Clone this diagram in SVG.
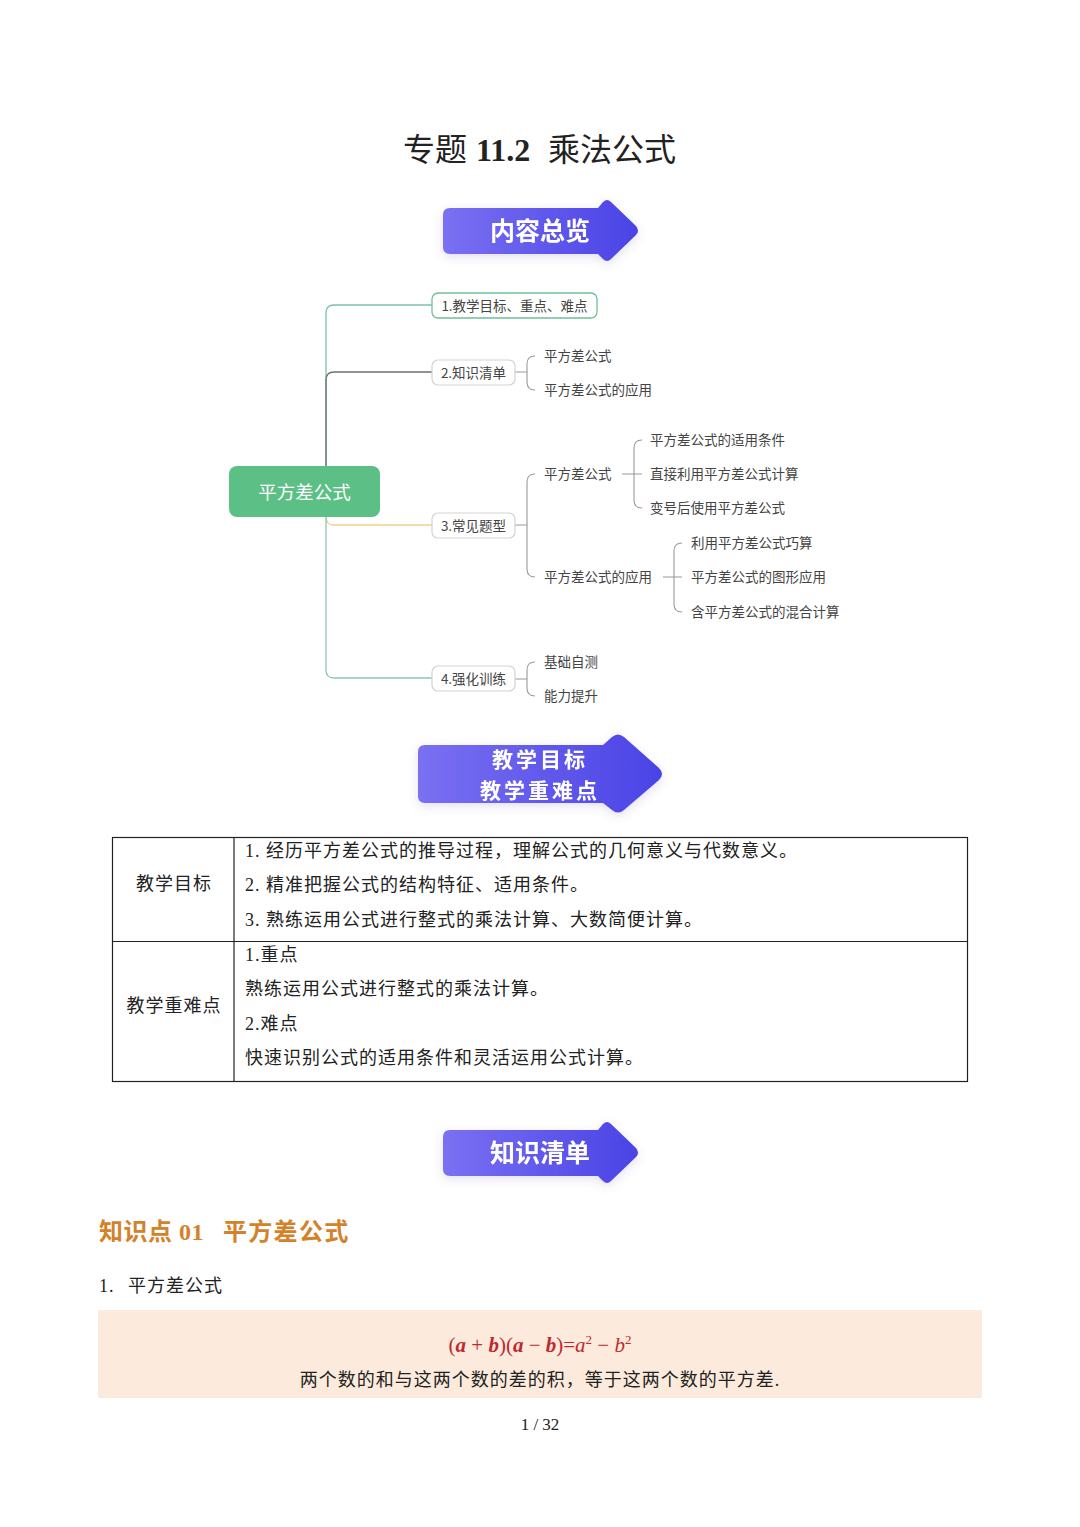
<svg xmlns="http://www.w3.org/2000/svg" width="1080" height="1527" viewBox="0 0 1080 1527">
<defs>
<linearGradient id="bg" x1="0" y1="0" x2="1" y2="0">
<stop offset="0" stop-color="#7a70f2"/>
<stop offset="1" stop-color="#4a43e6"/>
</linearGradient>
<filter id="sh" x="-20%" y="-40%" width="140%" height="180%">
<feDropShadow dx="0" dy="3" stdDeviation="5" flood-color="#5a55a0" flood-opacity="0.18"/>
</filter>
<style>
.serif{font-family:"Liberation Serif","Noto Sans CJK SC",serif;fill:#222}
.sans{font-family:"Noto Sans CJK SC","Noto Sans",sans-serif}
.ban{font-family:"Noto Sans CJK SC","Noto Sans",sans-serif;font-weight:700;fill:#fff;text-anchor:middle}
.mm{font-family:"Noto Sans CJK SC","Noto Sans",sans-serif;font-size:13.5px;fill:#444}
.box{fill:#fff;stroke:#d3d3d3;stroke-width:1.2}
.ln{fill:none;stroke-width:1.3}
.br{fill:none;stroke:#9a9a9a;stroke-width:1.1}
.tb{fill:none;stroke:#222;stroke-width:1.2}
.td{font-family:"Liberation Serif","Noto Sans CJK SC",serif;font-size:18px;fill:#222;letter-spacing:1px}
</style>
</defs>
<rect width="1080" height="1527" fill="#fff"/>

<g id="title">
<text x="403" y="161" class="serif" font-size="32">专题</text>
<text x="476" y="161" class="serif" font-size="32" font-weight="700">11.2</text>
<text x="548" y="161" class="serif" font-size="32">乘法公式</text>
</g>

<g id="banner1" filter="url(#sh)">
<path d="M450,208 H598 L603,202 Q607,198 611,202 L636,226 Q640,231 636,235 L611,259 Q607,263 603,259 L598,254 H450 Q443,254 443,247 V215 Q443,208 450,208 Z" fill="url(#bg)"/>
<text x="540" y="240" class="ban" font-size="25">内容总览</text>
</g>

<g id="connectors">
<path class="ln" stroke="#7cc4a5" d="M326,466 V313 Q326,305 334,305 H432"/>
<path class="ln" stroke="#6e6e78" d="M326,466 V380 Q326,372 334,372 H432"/>
<path class="ln" stroke="#f2cf8a" d="M326,517 Q326,525 334,525 H432"/>
<path class="ln" stroke="#8ac8b5" d="M326,517 V670 Q326,678 334,678 H432"/>
<path class="br" d="M515,372 H527 M535,356 Q527,356 527,364 V382 Q527,390 535,390"/>
<path class="br" d="M515,525 H527 M535,474 Q527,474 527,482 V569 Q527,577 535,577"/>
<path class="br" d="M622,474 H642 M642,440 Q634,440 634,448 V500 Q634,508 642,508"/>
<path class="br" d="M663,577 H682 M682,543 Q674,543 674,551 V604 Q674,612 682,612"/>
<path class="br" d="M515,679 H527 M535,662 Q527,662 527,670 V688 Q527,696 535,696"/>
</g>

<g id="center">
<rect x="229" y="466" width="151" height="51" rx="8" fill="#5cbf85"/>
<text x="304.5" y="499" text-anchor="middle" class="sans" font-size="18.5" fill="#fff">平方差公式</text>
</g>

<g id="n1">
<rect x="432" y="293" width="165" height="25" rx="6" fill="#fff" stroke="#6fbf98" stroke-width="1.3"/>
<text x="514.5" y="310.5" text-anchor="middle" class="mm">1.教学目标、重点、难点</text>
</g>
<g id="n2">
<rect x="432" y="360" width="83" height="25" rx="6" class="box"/>
<text x="473.5" y="377.5" text-anchor="middle" class="mm">2.知识清单</text>
</g>
<g id="n3">
<rect x="432" y="513" width="83" height="25" rx="6" class="box"/>
<text x="473.5" y="530.5" text-anchor="middle" class="mm">3.常见题型</text>
</g>
<g id="n4">
<rect x="432" y="666" width="83" height="25" rx="6" class="box"/>
<text x="473.5" y="683.5" text-anchor="middle" class="mm">4.强化训练</text>
</g>

<g id="n2a"><text x="544" y="361" class="mm">平方差公式</text></g>
<g id="n2b"><text x="544" y="395" class="mm">平方差公式的应用</text></g>
<g id="n3a"><text x="544" y="479" class="mm">平方差公式</text></g>
<g id="n3b"><text x="544" y="582" class="mm">平方差公式的应用</text></g>
<g id="n3a1"><text x="650" y="445" class="mm">平方差公式的适用条件</text></g>
<g id="n3a2"><text x="650" y="479" class="mm">直接利用平方差公式计算</text></g>
<g id="n3a3"><text x="650" y="513" class="mm">变号后使用平方差公式</text></g>
<g id="n3b1"><text x="691" y="548" class="mm">利用平方差公式巧算</text></g>
<g id="n3b2"><text x="691" y="582" class="mm">平方差公式的图形应用</text></g>
<g id="n3b3"><text x="691" y="617" class="mm">含平方差公式的混合计算</text></g>
<g id="n4a"><text x="544" y="667" class="mm">基础自测</text></g>
<g id="n4b"><text x="544" y="701" class="mm">能力提升</text></g>

<g id="banner2" filter="url(#sh)">
<path d="M425,745 H603 L612,737 Q618,732 624,737 L659,768 Q665,774 659,780 L624,810 Q618,815 612,810 L603,803 H425 Q418,803 418,796 V752 Q418,745 425,745 Z" fill="url(#bg)"/>
<text x="540" y="767" class="ban" font-size="21" letter-spacing="3">教学目标</text>
<text x="540" y="798" class="ban" font-size="21" letter-spacing="3">教学重难点</text>
</g>

<g id="table">
<rect x="112.5" y="837.5" width="855" height="244" class="tb"/>
<line x1="234" y1="837.5" x2="234" y2="1081.5" class="tb"/>
<line x1="112.5" y1="941.5" x2="967.5" y2="941.5" class="tb"/>
<text x="174" y="890" text-anchor="middle" class="td">教学目标</text>
<text x="245" y="857" class="td">1. 经历平方差公式的推导过程，理解公式的几何意义与代数意义。</text>
<text x="245" y="891" class="td">2. 精准把握公式的结构特征、适用条件。</text>
<text x="245" y="926" class="td">3. 熟练运用公式进行整式的乘法计算、大数简便计算。</text>
<text x="174" y="1012" text-anchor="middle" class="td">教学重难点</text>
<text x="245" y="961" class="td">1.重点</text>
<text x="245" y="995" class="td">熟练运用公式进行整式的乘法计算。</text>
<text x="245" y="1030" class="td">2.难点</text>
<text x="245" y="1064" class="td">快速识别公式的适用条件和灵活运用公式计算。</text>
</g>

<g id="banner3" filter="url(#sh)">
<path d="M450,1130 H598 L603,1124 Q607,1120 611,1124 L636,1148 Q640,1153 636,1157 L611,1181 Q607,1185 603,1181 L598,1176 H450 Q443,1176 443,1169 V1137 Q443,1130 450,1130 Z" fill="url(#bg)"/>
<text x="540" y="1162" class="ban" font-size="25">知识清单</text>
</g>

<g id="section">
<text x="99" y="1240" font-family="Liberation Serif,Noto Sans CJK SC,serif" font-size="24" font-weight="700" fill="#d4822a" letter-spacing="0.5">知识点 01</text>
<text x="223" y="1240" font-family="Liberation Serif,Noto Sans CJK SC,serif" font-size="24" font-weight="700" fill="#d4822a" letter-spacing="1.3">平方差公式</text>
<text x="99" y="1292" class="td">1.</text>
<text x="128" y="1292" class="td">平方差公式</text>
<rect x="98" y="1310" width="884" height="88" fill="#fcebdc"/>
<text x="540" y="1352" text-anchor="middle" font-family="Liberation Serif,serif" font-size="21" fill="#c0282d">(<tspan font-weight="700" font-style="italic">a</tspan> + <tspan font-weight="700" font-style="italic">b</tspan>)(<tspan font-weight="700" font-style="italic">a</tspan> − <tspan font-weight="700" font-style="italic">b</tspan>)=<tspan font-style="italic">a</tspan><tspan font-size="13" dy="-8">2</tspan><tspan dy="8"> − </tspan><tspan font-style="italic">b</tspan><tspan font-size="13" dy="-8">2</tspan></text>
<text x="540" y="1386" text-anchor="middle" class="td" letter-spacing="0.6">两个数的和与这两个数的差的积，等于这两个数的平方差.</text>
<text x="540" y="1430" text-anchor="middle" font-family="Liberation Serif,serif" font-size="17" fill="#222">1 / 32</text>
</g>
</svg>
